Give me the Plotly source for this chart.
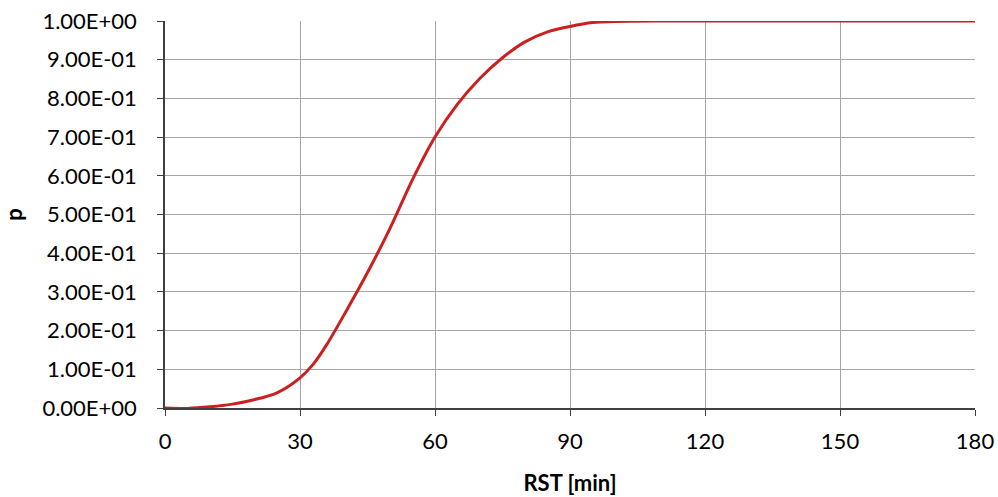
import plotly.graph_objects as go

rst_min = [0, 5, 10, 15, 20, 25, 30, 33, 36, 40, 45, 50, 55, 60, 65, 70, 75, 80, 85, 90, 95, 100, 110, 120, 150, 180]
p_vals = [0.0, -0.001, 0.003, 0.01, 0.022, 0.04, 0.078, 0.114, 0.165, 0.245, 0.35, 0.464, 0.59, 0.70, 0.785, 0.852, 0.905, 0.946, 0.972, 0.986, 0.996, 0.999, 1.0, 1.0, 1.0, 1.0]

x_ticks = [0, 30, 60, 90, 120, 150, 180]
y_ticks = [0.0, 0.1, 0.2, 0.3, 0.4, 0.5, 0.6, 0.7, 0.8, 0.9, 1.0]
y_tick_labels = ["0.00E+00", "1.00E-01", "2.00E-01", "3.00E-01", "4.00E-01", "5.00E-01",
                 "6.00E-01", "7.00E-01", "8.00E-01", "9.00E-01", "1.00E+00"]

fig = go.Figure()
fig.add_trace(go.Scatter(x=rst_min, y=p_vals, mode="lines",
                         line=dict(color="#CC1F1F", width=3, shape="spline", smoothing=0.8),
                         showlegend=False, hoverinfo="skip"))

font_fam = "Lato, 'Open Sans', sans-serif"
fig.update_layout(
    width=998, height=497,
    margin=dict(l=165, r=23, t=21, b=89),
    paper_bgcolor="white", plot_bgcolor="white",
    font=dict(family=font_fam, size=22, color="#000000"),
    xaxis=dict(range=[0, 180], tickvals=x_ticks, showgrid=True, gridcolor="#A6A6A6", gridwidth=1,
               showline=True, linecolor="#404040", linewidth=1.5, zeroline=False,
               ticks="outside", ticklen=6, tickcolor="#404040", automargin=False,
               ticklabelstandoff=7, ticklabeloverflow="allow",
               title=dict(text="<b>RST [min]</b>", font=dict(size=22), standoff=22)),
    yaxis=dict(range=[0, 1], tickvals=y_ticks, ticktext=y_tick_labels, showgrid=True,
               gridcolor="#A6A6A6", gridwidth=1,
               showline=True, linecolor="#404040", linewidth=1.5, zeroline=False,
               ticks="outside", ticklen=6, tickcolor="#404040", automargin=False,
               ticklabelstandoff=16, ticklabeloverflow="allow",
               title=dict(text="<b>p</b>", font=dict(size=22), standoff=23)),
)
fig.write_html("out.html", config={"displayModeBar": False},
               post_script="document.body.style.margin='0';document.body.style.overflow='hidden';")
